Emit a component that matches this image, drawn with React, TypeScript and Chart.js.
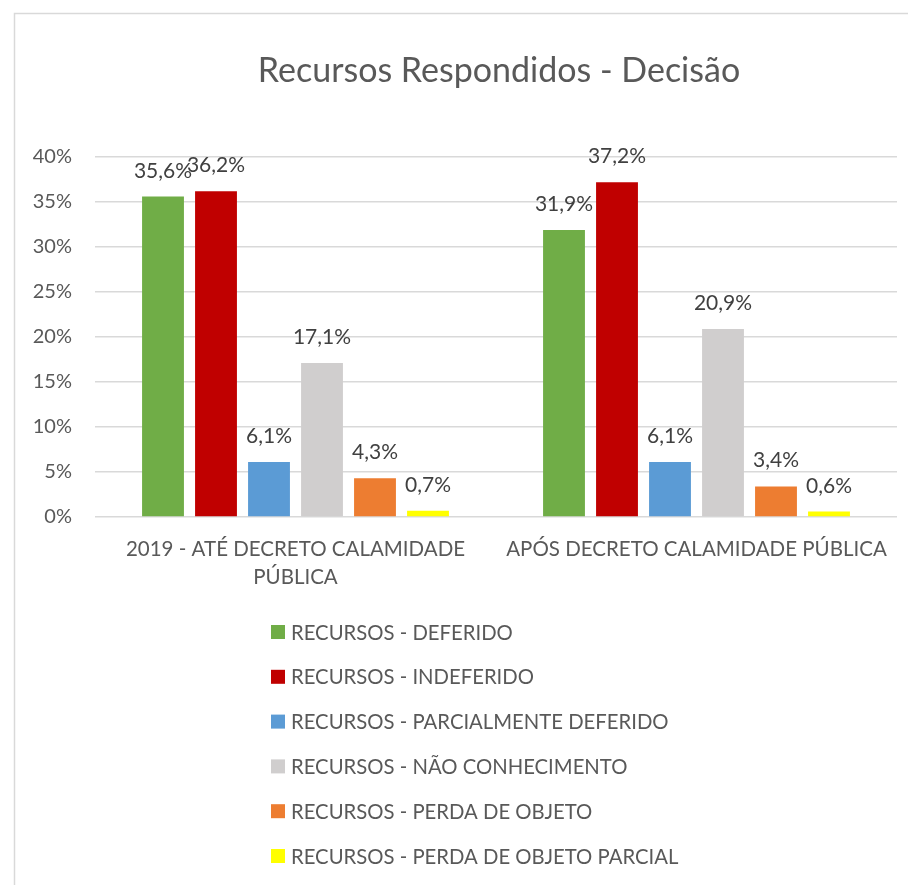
import React, { useEffect, useRef } from "react";
import { Chart, registerables } from "chart.js";

Chart.register(...registerables);

const categories: (string | string[])[] = [
  ["2019 - ATÉ DECRETO CALAMIDADE", "PÚBLICA"],
  "APÓS DECRETO CALAMIDADE PÚBLICA",
];
const seriesNames = [
  "RECURSOS - DEFERIDO",
  "RECURSOS - INDEFERIDO",
  "RECURSOS - PARCIALMENTE DEFERIDO",
  "RECURSOS - NÃO CONHECIMENTO",
  "RECURSOS - PERDA DE OBJETO",
  "RECURSOS - PERDA DE OBJETO PARCIAL",
];
const deferido = [35.6, 31.9];
const indeferido = [36.2, 37.2];
const parcialmente = [6.1, 6.1];
const naoConhecimento = [17.1, 20.9];
const perdaObjeto = [4.3, 3.4];
const perdaObjetoParcial = [0.7, 0.6];
const seriesValues = [deferido, indeferido, parcialmente, naoConhecimento, perdaObjeto, perdaObjetoParcial];
const seriesColors = ["#70ad47", "#c00000", "#5b9bd5", "#d0cece", "#ed7d31", "#ffff00"];
const yTicks = [0, 5, 10, 15, 20, 25, 30, 35, 40];
const titleText = "Recursos Respondidos - Decisão";

const FONT = "Lato, 'Open Sans', sans-serif";

const decorPlugin = {
  id: "decor",
  beforeDraw(chart: any) {
    const ctx = chart.ctx;
    ctx.save();
    ctx.fillStyle = "#ffffff";
    ctx.fillRect(0, 0, chart.width, chart.height);
    ctx.strokeStyle = "#d9d9d9";
    ctx.lineWidth = 1.5;
    ctx.strokeRect(14.5, 13.5, chart.width + 20, chart.height + 20);
    ctx.restore();
  },
  afterDraw(chart: any) {
    const ctx = chart.ctx;
    const area = chart.chartArea;
    ctx.save();
    // title
    ctx.fillStyle = "#595959";
    ctx.font = `34px ${FONT}`;
    ctx.textAlign = "center";
    ctx.textBaseline = "alphabetic";
    ctx.fillText(titleText, (area.left + area.right) / 2 + 3, 82);

    // data labels
    ctx.fillStyle = "#404040";
    ctx.font = `21px ${FONT}`;
    chart.data.datasets.forEach((ds: any, i: number) => {
      const meta = chart.getDatasetMeta(i);
      meta.data.forEach((bar: any, j: number) => {
        const v = ds.data[j];
        const label = v.toFixed(1).replace(".", ",") + "%";
        ctx.fillText(label, bar.x, bar.y - 19);
      });
    });

    // legend
    ctx.textAlign = "left";
    ctx.textBaseline = "middle";
    ctx.font = `20.3px ${FONT}`;
    const startY = area.bottom + 115;
    const step = 44.8;
    chart.data.datasets.forEach((ds: any, i: number) => {
      const y = startY + i * step;
      ctx.fillStyle = ds.backgroundColor;
      ctx.fillRect(271, y - 7, 14, 14);
      ctx.fillStyle = "#595959";
      ctx.fillText(ds.label, 291, y + 1);
    });
    ctx.restore();
  },
};

export default function App() {
  const canvasRef = useRef<HTMLCanvasElement | null>(null);

  useEffect(() => {
    document.body.style.margin = "0";
    const canvas = canvasRef.current;
    if (!canvas) return;
    const chart = new Chart(canvas, {
      type: "bar",
      data: {
        labels: categories,
        datasets: seriesNames.map((name, i) => ({
          label: name,
          data: seriesValues[i],
          backgroundColor: seriesColors[i],
          borderWidth: 0,
          categoryPercentage: 0.793,
          barPercentage: 0.79,
        })),
      },
      options: {
        animation: false,
        responsive: false,
        maintainAspectRatio: false,
        devicePixelRatio: 1,
        layout: { padding: { top: 157, left: 14, right: 11, bottom: 288 } },
        plugins: {
          legend: { display: false },
          title: { display: false },
          tooltip: { enabled: false },
        },
        scales: {
          x: {
            grid: { display: false, drawTicks: false },
            border: { display: false },
            ticks: {
              color: "#595959",
              font: { family: FONT, size: 20.5, lineHeight: 1.37 },
              padding: 18,
              autoSkip: false,
              maxRotation: 0,
              minRotation: 0,
            },
            afterFit(scale: any) {
              scale.height = 80;
            },
          },
          y: {
            min: 0,
            max: 40,
            afterBuildTicks(scale: any) {
              scale.ticks = yTicks.map((v) => ({ value: v }));
            },
            grid: { color: "#d9d9d9", lineWidth: 1.5, drawTicks: false },
            border: { display: false },
            ticks: {
              color: "#595959",
              font: { family: FONT, size: 20 },
              padding: 23,
              callback: (v: any) => `${v}%`,
            },
            afterFit(scale: any) {
              scale.width = 81;
            },
          },
        },
      },
      plugins: [decorPlugin],
    });
    return () => chart.destroy();
  }, []);

  return (
    <div style={{ width: 908, height: 885, overflow: "hidden" }}>
      <canvas ref={canvasRef} width={908} height={885} style={{ display: "block", width: 908, height: 885 }} />
    </div>
  );
}
